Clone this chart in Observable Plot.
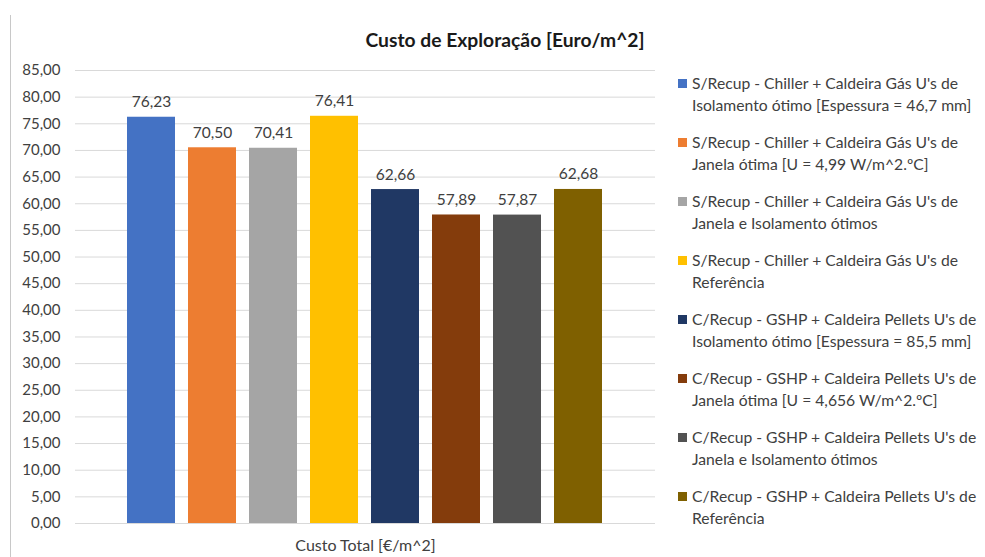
<!DOCTYPE html>
<html>
<head>
<meta charset="utf-8">
<script src="https://cdn.jsdelivr.net/npm/d3@7"></script>
<script src="https://cdn.jsdelivr.net/npm/@observablehq/plot@0.6"></script>
<style>
  html, body { margin: 0; padding: 0; background: #fff; }
  #wrap { position: relative; width: 985px; height: 557px; overflow: hidden; font-family: Lato, "Open Sans", sans-serif; }
  #border { position: absolute; left: 10px; top: 15px; width: 0; height: 560px; border-left: 1px solid #c8c8c8; }
  #title { position: absolute; left: 300px; width: 410px; top: 28px; text-align: center; font-weight: bold; font-size: 19.3px; color: #1a1a1a; }
  #chart { position: absolute; left: 0; top: 0; }
  #legend { position: absolute; left: 678px; top: 73px; font-size: 15.7px; color: #404040; }
  .item { position: relative; padding-left: 14px; line-height: 21.5px; height: 59px; white-space: nowrap; }
  .sw { position: absolute; left: 0; top: 6px; width: 9px; height: 9px; }
</style>
</head>
<body>
<div id="wrap">
  <div id="border"></div>
  <div id="chart"></div>
  <div id="title"></div>
  <div id="legend"></div>
</div>
<script>
const title = "Custo de Exploração [Euro/m^2]";
const xLabel = "Custo Total [€/m^2]";
const seriesLine1 = [
  "S/Recup - Chiller + Caldeira Gás U's de",
  "S/Recup - Chiller + Caldeira Gás U's de",
  "S/Recup - Chiller + Caldeira Gás U's de",
  "S/Recup - Chiller + Caldeira Gás U's de",
  "C/Recup - GSHP + Caldeira Pellets U's de",
  "C/Recup - GSHP + Caldeira Pellets U's de",
  "C/Recup - GSHP + Caldeira Pellets U's de",
  "C/Recup - GSHP + Caldeira Pellets U's de"
];
const seriesLine2 = [
  "Isolamento ótimo [Espessura = 46,7 mm]",
  "Janela ótima [U = 4,99 W/m^2.ºC]",
  "Janela e Isolamento ótimos",
  "Referência",
  "Isolamento ótimo [Espessura = 85,5 mm]",
  "Janela ótima [U = 4,656 W/m^2.ºC]",
  "Janela e Isolamento ótimos",
  "Referência"
];
const values = [76.23, 70.50, 70.41, 76.41, 62.66, 57.89, 57.87, 62.68];
const colors = ["#4472c4", "#ed7d31", "#a5a5a5", "#ffc000", "#203864", "#843c0c", "#525252", "#7f6000"];
const yTicks = d3.range(0, 86, 5);

const fmt = v => d3.format(".2f")(v).replace(".", ",");
const names = seriesLine1.map((s, i) => s + " " + seriesLine2[i]);
const data = names.map((n, i) => ({name: n, value: values[i], color: colors[i]}));

document.getElementById("title").textContent = title;

const chart = Plot.plot({
  width: 660,
  height: 557,
  marginLeft: 75,
  marginRight: 5,
  marginTop: 70,
  marginBottom: 34,
  style: {fontFamily: "Lato, 'Open Sans', sans-serif", fontSize: "15px", color: "#404040", background: "transparent"},
  x: {domain: names, paddingInner: 0.213, paddingOuter: 0.86, axis: null},
  y: {domain: [0, 85], ticks: yTicks, tickFormat: fmt, label: null, tickSize: 0, tickPadding: 15},
  color: {domain: names, range: colors},
  marks: [
    Plot.gridY(yTicks, {stroke: "#d9d9d9", strokeOpacity: 1, strokeWidth: 1}),
    Plot.barY(data, {x: "name", y: "value", fill: "color"}),
    Plot.text(data, {x: "name", y: "value", text: d => fmt(d.value), dy: -15, fontSize: 15.5, fill: "#404040"}),
    Plot.text([xLabel], {frameAnchor: "bottom", dy: 27, fontSize: 16, fill: "#404040"})
  ]
});
document.getElementById("chart").appendChild(chart);

const legend = document.getElementById("legend");
data.forEach((d, i) => {
  const item = document.createElement("div");
  item.className = "item";
  const sw = document.createElement("span");
  sw.className = "sw";
  sw.style.background = d.color;
  item.appendChild(sw);
  item.appendChild(document.createTextNode(seriesLine1[i]));
  item.appendChild(document.createElement("br"));
  item.appendChild(document.createTextNode(seriesLine2[i]));
  legend.appendChild(item);
});
</script>
</body>
</html>
